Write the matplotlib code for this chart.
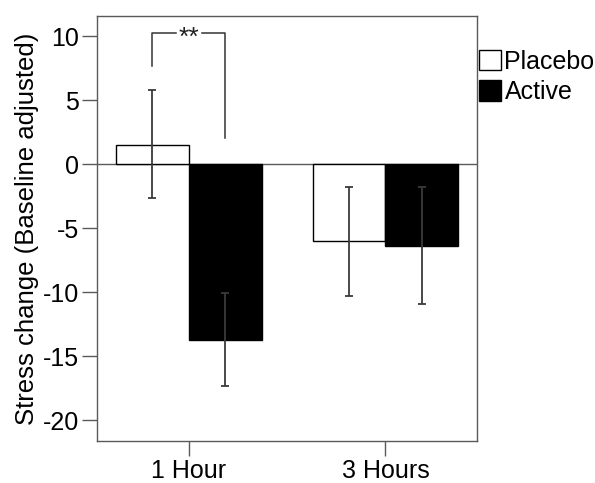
import numpy as np
import matplotlib
matplotlib.use('Agg')
import matplotlib.pyplot as plt
from matplotlib.patches import Patch

plt.rcParams['font.family'] = ['Liberation Sans', 'DejaVu Sans']

groups = ['1 Hour', '3 Hours']
series = ['Placebo', 'Active']
means = {'Placebo': [1.55, -6.0], 'Active': [-13.7, -6.4]}
err_low = {'Placebo': [-2.65, -10.3], 'Active': [-17.3, -10.9]}
err_high = {'Placebo': [5.8, -1.8], 'Active': [-10.05, -1.8]}
fills = {'Placebo': 'white', 'Active': 'black'}

# significance bracket (1 Hour, placebo vs active)
sig_label = '**'
sig_top = 10.25
sig_left_end = 7.7
sig_right_end = 2.1

x = np.arange(len(groups))
width = 0.37
axis_col = '#5a5a5a'

fig = plt.figure(figsize=(5.95, 4.83), dpi=100)
ax = fig.add_axes([0.163, 0.087, 0.639, 0.880])

for i, s in enumerate(series):
    pos = x + (i - 0.5) * width
    m = np.array(means[s])
    lo = m - np.array(err_low[s])
    hi = np.array(err_high[s]) - m
    ax.bar(pos, m, width, color=fills[s], edgecolor='black', linewidth=1.0, zorder=2)
    ax.errorbar(pos, m, yerr=[lo, hi], fmt='none', ecolor='#3a3a3a',
                elinewidth=1.3, capsize=3, capthick=1.3, zorder=3)

ax.axhline(0, color=axis_col, lw=1.0, zorder=1)

# bracket
xl = x[0] - 0.5 * width
xr = x[0] + 0.5 * width
gap = 0.065
ax.plot([xl, xl, x[0] - gap], [sig_left_end, sig_top, sig_top], color='#333333', lw=1.1)
ax.plot([x[0] + gap, xr, xr], [sig_top, sig_top, sig_right_end], color='#333333', lw=1.1)
ax.text(x[0], sig_top - 0.35, sig_label, ha='center', va='center', fontsize=19, color='#222222')

ax.set_xlim(-0.467, 1.467)
ax.set_ylim(-21.6, 11.6)
ax.set_xticks(x)
ax.set_xticklabels(groups, fontsize=18)
ax.set_yticks([10, 5, 0, -5, -10, -15, -20])
ax.set_yticklabels(['10', '5', '0', '-5', '-10', '-15', '-20'], fontsize=18)
ax.set_ylabel('Stress change (Baseline adjusted)', fontsize=18.5, labelpad=3)
ax.tick_params(length=11, width=1.0, color=axis_col, pad=2)
for sp in ax.spines.values():
    sp.set_color(axis_col)
    sp.set_linewidth(1.0)

handles = [Patch(facecolor=fills[s], edgecolor='black', linewidth=1.0) for s in series]
fig.legend(handles, series, loc='upper left', bbox_to_anchor=(0.805, 0.897),
           frameon=False, fontsize=18, handlelength=0.9, handleheight=0.9,
           handletextpad=0.12, labelspacing=0.25, borderpad=0, borderaxespad=0)

fig.savefig('out.png', dpi=100)
